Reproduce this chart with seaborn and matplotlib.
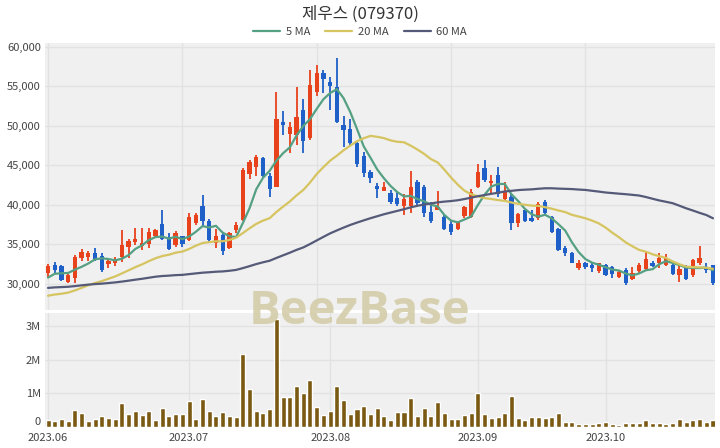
import numpy as np
import pandas as pd
import matplotlib
matplotlib.use("Agg")
import matplotlib.pyplot as plt
import seaborn as sns

title = "제우스 (079370)"
month_labels = ["2023.06", "2023.07", "2023.08", "2023.09", "2023.10"]
month_pos = [0, 21, 42, 64, 83]
price_ticks = [30000, 35000, 40000, 45000, 50000, 55000, 60000]
vol_ticks = [0, 1e6, 2e6, 3e6]
vol_tick_labels = ["0", "1M", "2M", "3M"]

opens = [31400, 32400, 32300, 30300, 30700, 33300, 33400, 33900, 33500, 32500,
         32700, 33400, 34700, 35300, 34800, 35000, 36100, 37600, 35900, 34900,
         36000, 35600, 37700, 39800, 37900, 35200, 36200, 34500, 36800, 38100,
         43900, 44800, 45900, 43600, 42300, 50500, 49000, 48800, 52000, 48400,
         54300, 56600, 55500, 54900, 50100, 49600, 47800, 46200, 44100, 42400,
         41800, 41500, 40800, 39800, 39800, 42900, 42300, 39100, 39400, 38500,
         37600, 36900, 38600, 38500, 42300, 44600, 42700, 43800, 40700, 41000,
         37700, 39300, 38300, 38300, 40300, 38400, 36900, 34600, 33900, 32000,
         32600, 32400, 31600, 32400, 32100, 30900, 31800, 30600, 31600, 31900,
         32700, 32600, 32400, 32400, 31150, 32200, 31150, 32700, 32000, 32400]
closes = [32200, 31800, 30500, 31100, 33400, 34000, 33900, 33100, 31800, 32900,
          33200, 34900, 35400, 35700, 35200, 36500, 36800, 35700, 34400, 36400,
          35000, 38400, 38700, 38000, 35600, 36000, 34100, 36400, 37500, 44400,
          45400, 46100, 43600, 42000, 50800, 50100, 49800, 51100, 48000, 55100,
          56600, 55900, 55000, 50500, 49400, 47800, 45200, 44000, 43400, 42000,
          42200, 40300, 40100, 40700, 42300, 40200, 38900, 37900, 39700, 36900,
          36600, 37800, 39700, 41600, 44200, 43100, 42950, 41300, 41600, 37700,
          38800, 38000, 37900, 40100, 38900, 36500, 34300, 33900, 32700, 32700,
          32100, 32000, 32600, 31150, 31200, 31500, 30100, 31400, 32400, 33200,
          32200, 33250, 33300, 31300, 31850, 30600, 33000, 33250, 31700, 30100]
highs = [32500, 32800, 32400, 31300, 33700, 34400, 34200, 34500, 33900, 33200,
         33400, 36800, 35700, 37100, 37100, 37100, 37000, 39300, 36400, 36700,
         36100, 38900, 38900, 41200, 38200, 37000, 36500, 36600, 37800, 44600,
         45700, 46300, 46100, 44000, 54300, 51900, 50500, 54900, 53400, 57000,
         57700, 57100, 56200, 58500, 51200, 50800, 48000, 46700, 44400, 42700,
         42900, 41900, 41800, 41300, 44300, 43100, 42500, 40300, 41700, 38700,
         37900, 37900, 39900, 42000, 45100, 45600, 43800, 44800, 42900, 41300,
         38900, 39400, 39400, 40400, 40600, 38600, 37100, 34800, 34000, 33000,
         32800, 32600, 32700, 32500, 32300, 31700, 32000, 32100, 32600, 34200,
         32900, 33900, 33800, 32500, 32400, 32400, 33100, 34800, 32600, 32400]
lows = [30700, 31400, 30400, 30100, 30100, 32900, 32900, 32900, 31500, 32000,
        32200, 32800, 33300, 34900, 34300, 34600, 35900, 35500, 34300, 34700,
        34700, 35400, 37500, 37300, 35300, 34500, 33700, 34400, 36400, 37900,
        43300, 43600, 43400, 41000, 42200, 48800, 46500, 47600, 46500, 48200,
        53700, 54100, 52000, 50300, 47300, 47400, 44800, 43500, 42800, 40800,
        41700, 40100, 39900, 38700, 39000, 40000, 38500, 37700, 39300, 36800,
        36200, 36800, 38300, 38300, 42100, 42900, 41500, 41000, 40600, 36800,
        37200, 37800, 37800, 38100, 38700, 36400, 34100, 33500, 32600, 31800,
        31900, 31500, 31400, 31000, 30800, 30800, 29900, 30500, 31400, 31700,
        32100, 32000, 32300, 31100, 30300, 30500, 30900, 32400, 31400, 29900]
volumes_m = [0.22, 0.18, 0.25, 0.17, 0.50, 0.42, 0.18, 0.23, 0.32, 0.26,
             0.24, 0.72, 0.40, 0.48, 0.37, 0.48, 0.22, 0.58, 0.34, 0.39,
             0.38, 0.78, 0.24, 0.83, 0.48, 0.33, 0.44, 0.34, 0.30, 2.18,
             1.14, 0.47, 0.42, 0.53, 3.22, 0.90, 0.89, 1.22, 1.02, 1.39,
             0.60, 0.35, 0.49, 1.22, 0.81, 0.40, 0.53, 0.62, 0.38, 0.58,
             0.33, 0.22, 0.45, 0.44, 0.87, 0.33, 0.58, 0.33, 0.75, 0.42,
             0.25, 0.24, 0.35, 0.43, 1.00, 0.38, 0.28, 0.31, 0.43, 0.92,
             0.28, 0.20, 0.29, 0.29, 0.26, 0.31, 0.41, 0.16, 0.16, 0.10,
             0.09, 0.10, 0.11, 0.15, 0.08, 0.05, 0.12, 0.11, 0.12, 0.21,
             0.13, 0.12, 0.10, 0.13, 0.24, 0.14, 0.21, 0.24, 0.14, 0.20]
# estimated closes of the 59 sessions before the window (for moving averages)
prior_closes = [28000, 28300, 28600, 28400, 28200, 28500, 28800, 28600, 28300, 28400,
                28700, 28500, 28200, 28400, 28600, 28900,
                30500, 31500, 32500, 33000, 32800, 33200, 32600, 32300, 32000, 31800,
                31500, 31000,
                30800, 30500, 30300, 30200, 30000, 29800, 30100, 29900, 29700, 29600,
                29400, 29200,
                28800, 28500, 28200, 27900, 27600, 27400, 27200, 27100, 27000, 27200,
                27300, 27500, 27800, 28100, 28500,
                29400, 30200, 30900, 31300]

n = len(closes)
idx = np.arange(n)
full = pd.Series(prior_closes + closes, dtype=float)
npre = len(prior_closes)
ma = {w: full.rolling(w).mean().iloc[npre:].to_numpy() for w in (5, 20, 60)}

sns.set_theme(style="white")
plt.rcParams["font.family"] = ["Noto Sans CJK KR", "DejaVu Sans"]

UP = "#e8421c"
DOWN = "#1f5fc8"
BG = "#f0f0f0"
GRID = "#e2e2e2"
TXT = "#444444"

W, H = 720, 448
fig = plt.figure(figsize=(W / 100, H / 100), dpi=100, facecolor="white")
ax = fig.add_axes([45 / W, 1 - 310 / H, 670 / W, 267 / H])
axv = fig.add_axes([45 / W, 1 - 427 / H, 670 / W, 114 / H])

o = np.array(opens, float)
c = np.array(closes, float)
hi = np.array(highs, float)
lo = np.array(lows, float)
cols = np.where(c >= o, UP, DOWN)

ax.set_facecolor(BG)
ax.vlines(idx, lo, hi, colors=cols, lw=1.3, zorder=3)
body_h = np.maximum(np.abs(c - o), 60)
ax.bar(idx, body_h, bottom=np.minimum(o, c), width=0.64, color=cols, zorder=3, linewidth=0)

ma_cols = {5: "#55a083", 20: "#d6c460", 60: "#555a78"}
for w in (5, 20, 60):
    sns.lineplot(x=idx, y=ma[w], ax=ax, color=ma_cols[w], lw=1.6, label=f"{w} MA", zorder=4)

handles, labels = ax.get_legend_handles_labels()
ax.get_legend().remove()
leg = fig.legend(handles, labels, loc="center", bbox_to_anchor=(0.5, 1 - 32 / H), ncol=3,
                 frameon=False, fontsize=8, handlelength=2.4, columnspacing=1.4,
                 handletextpad=0.5)
for t in leg.get_texts():
    t.set_color(TXT)

ax.set_xlim(-0.45, n - 0.7)
ax.set_ylim(26700, 60450)
ax.set_yticks(price_ticks)
ax.set_yticklabels([f"{v:,}" for v in price_ticks])
ax.set_xticks([0, 20, 40, 60, 80])
ax.set_xticklabels([])
ax.grid(True, color=GRID, lw=1.0)
ax.set_axisbelow(True)
ax.tick_params(length=0, labelsize=8, labelcolor=TXT, pad=3)
for s in ax.spines.values():
    s.set_visible(False)
ax.set_xlabel("")
ax.set_ylabel("")

axv.set_facecolor(BG)
vol = np.array(volumes_m) * 1e6
sns.barplot(x=idx, y=vol, ax=axv, native_scale=True, color="#7a5a12", width=0.75,
            errorbar=None, saturation=1, zorder=3)
axv.set_xlim(-0.45, n - 0.7)
axv.set_ylim(0, 3.4e6)
axv.set_yticks(vol_ticks)
axv.set_yticklabels(vol_tick_labels)
axv.set_xticks(month_pos)
axv.set_xticklabels(month_labels)
axv.grid(True, color=GRID, lw=1.0)
axv.set_axisbelow(True)
axv.tick_params(axis="y", length=0, labelsize=8, labelcolor=TXT, pad=3)
axv.tick_params(axis="x", length=0, labelsize=8, labelcolor=TXT, pad=4)
for lab in axv.get_yticklabels():
    if lab.get_text() == "0":
        lab.set_verticalalignment("bottom")
for s in axv.spines.values():
    s.set_visible(False)
axv.set_xlabel("")
axv.set_ylabel("")

fig.text(0.5, 1 - 14 / H, title, ha="center", va="center", fontsize=12, color="#333333")
fig.text(0.5, 1 - 311 / H, "BeezBase", ha="center", va="center", fontsize=34,
         fontweight="bold", family=["Open Sans", "DejaVu Sans"], color="#d3cba5",
         alpha=0.85, zorder=10)

fig.savefig("out.png", dpi=100, facecolor="white")
